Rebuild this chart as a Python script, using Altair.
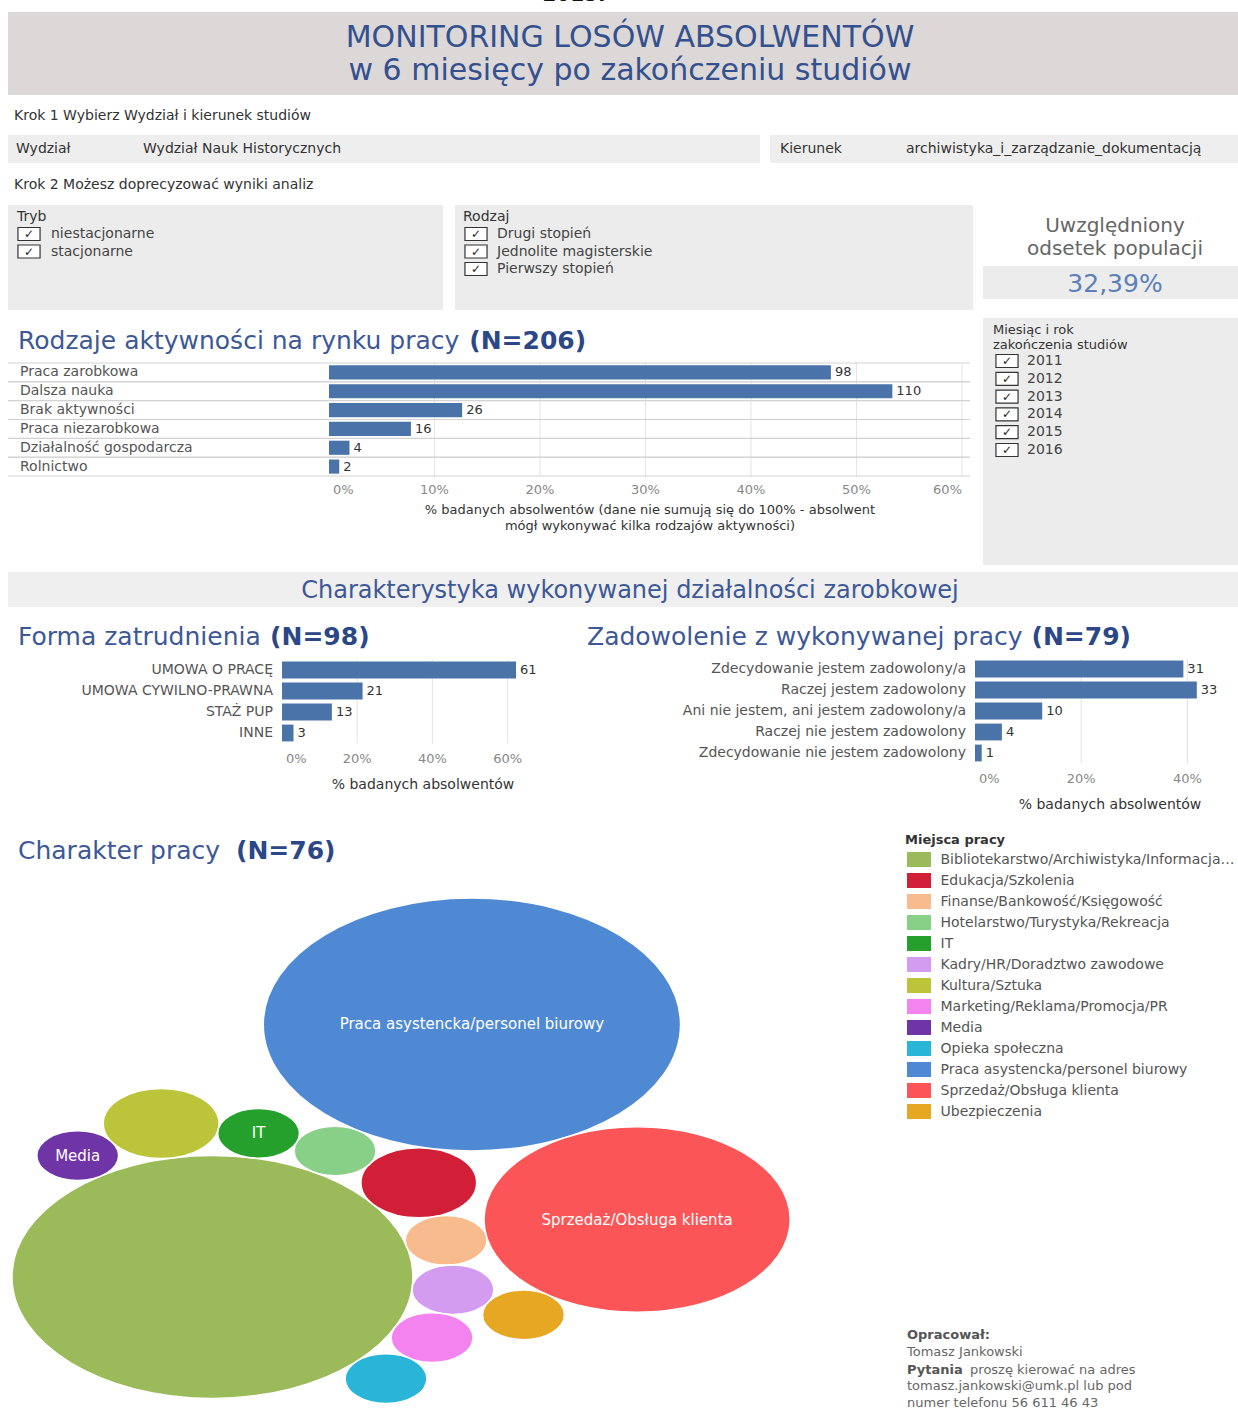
import math
import unicodedata
import altair as alt
import pandas as pd

# ------------------------------------------------------------------ data
report_year = "2015."
title_line1 = "MONITORING LOSÓW ABSOLWENTÓW"
title_line2 = "w 6 miesięcy po zakończeniu studiów"

faculty = "Wydział Nauk Historycznych"
major = "archiwistyka_i_zarządzanie_dokumentacją"
tryb_items = ["niestacjonarne", "stacjonarne"]
rodzaj_items = ["Drugi stopień", "Jednolite magisterskie", "Pierwszy stopień"]
year_items = ["2011", "2012", "2013", "2014", "2015", "2016"]
population_share = "32,39%"

activity_labels = ["Praca zarobkowa", "Dalsza nauka", "Brak aktywności",
                   "Praca niezarobkowa", "Działalność gospodarcza", "Rolnictwo"]
activity_counts = [98, 110, 26, 16, 4, 2]
activity_n = 206
activity_ticks = [0, 0.1, 0.2, 0.3, 0.4, 0.5, 0.6]

form_labels = ["UMOWA O PRACĘ", "UMOWA CYWILNO-PRAWNA", "STAŻ PUP", "INNE"]
form_counts = [61, 21, 13, 3]
form_n = 98
form_ticks = [0, 0.2, 0.4, 0.6]

sat_labels = ["Zdecydowanie jestem zadowolony/a", "Raczej jestem zadowolony",
              "Ani nie jestem, ani jestem zadowolony/a", "Raczej nie jestem zadowolony",
              "Zdecydowanie nie jestem zadowolony"]
sat_counts = [31, 33, 10, 4, 1]
sat_n = 79
sat_ticks = [0, 0.2, 0.4]

job_places = ["Bibliotekarstwo/Archiwistyka/Informacja naukowa", "Edukacja/Szkolenia",
              "Finanse/Bankowość/Księgowość", "Hotelarstwo/Turystyka/Rekreacja", "IT",
              "Kadry/HR/Doradztwo zawodowe", "Kultura/Sztuka", "Marketing/Reklama/Promocja/PR",
              "Media", "Opieka społeczna", "Praca asystencka/personel biurowy",
              "Sprzedaż/Obsługa klienta", "Ubezpieczenia"]
job_counts = [24, 2, 1, 1, 1, 1, 2, 1, 1, 1, 26, 14, 1]
job_colors = ["#9bba59", "#d11f37", "#f7bb8d", "#88cf88", "#26a02d", "#d39cf0", "#bcc43a",
              "#f283ef", "#6f35a6", "#29b5d8", "#5089d3", "#fb5557", "#e6a823"]
job_bubble_text = ["", "", "", "", "IT", "", "", "", "Media", "",
                   "Praca asystencka/personel biurowy", "Sprzedaż/Obsługa klienta", ""]

author_lines = ["Tomasz Jankowski", "tomasz.jankowski@umk.pl lub pod", "numer telefonu 56 611 46 43"]

# ------------------------------------------------------------------ style
FONT = "DejaVu Sans"
BAR = "#4a74a9"
BLUE_T = "#3d5897"
BLUE_B = "#2c4788"
ONE = [{"k": 0}]

CW = {" ": .318, "(": .39, ")": .39, "=": .838, ":": .337, ".": .318, ",": .318, "%": .95,
      "/": .337, "-": .361, "a": .613, "b": .635, "c": .55, "d": .635, "e": .615, "f": .352,
      "g": .635, "h": .634, "i": .278, "j": .278, "k": .579, "l": .278, "m": .974, "n": .634,
      "o": .612, "p": .635, "q": .635, "r": .411, "s": .521, "t": .392, "u": .634, "v": .592,
      "w": .818, "x": .592, "y": .592, "z": .525, "ł": .284, "A": .684, "C": .698, "F": .575,
      "N": .748, "P": .603, "R": .695, "Z": .685}


def tw(s, size, bold=False):
    w = 0.0
    for ch in s:
        base = unicodedata.normalize("NFD", ch)[0]
        w += CW.get(ch, CW.get(base, 0.636 if ch.isdigit() else 0.62))
    return w * size * (1.2 if bold else 1.0)


def box(x, y, x2, y2, fill):
    return alt.Chart(alt.Data(values=ONE)).mark_rect(fill=fill).encode(
        x=alt.value(x), x2=alt.value(x2), y=alt.value(y), y2=alt.value(y2))


def txt(s, x, y, size=14, color="#444", align="left", bold=False, baseline="middle", limit=None):
    kw = dict(text=s, align=align, baseline=baseline, fontSize=size, color=color, font=FONT,
              fontWeight="bold" if bold else "normal")
    if limit:
        kw["limit"] = limit
    return alt.Chart(alt.Data(values=ONE)).mark_text(**kw).encode(x=alt.value(x), y=alt.value(y))


def rich_title(normal, bold, x, y, size):
    return [txt(normal, x, y, size=size, color=BLUE_T),
            txt(bold, x + tw(normal, size), y, size=size, color=BLUE_B, bold=True)]


BOX_PATH = "M-1.7,-1H1.7V1H-1.7Z"


def checklist(items, x_box, x_text, y0, pitch, size=14):
    df = pd.DataFrame({"item": items})
    n = len(items)
    ys = alt.Scale(domain=items, range=[y0 - pitch / 2, y0 + (n - 0.5) * pitch],
                   paddingInner=0, paddingOuter=0)
    Y = alt.Y("item:N", scale=ys, axis=None)
    base = alt.Chart(df)
    boxes = base.mark_point(shape=BOX_PATH, size=169, filled=True, color="white",
                            stroke="#333", strokeWidth=1.2, opacity=1).encode(x=alt.value(x_box), y=Y)
    checks = base.mark_text(text="✓", fontSize=12, fontWeight="bold", color="#222", font=FONT,
                            align="center", baseline="middle").encode(x=alt.value(x_box), y=Y)
    labels = base.mark_text(align="left", baseline="middle", fontSize=size, color="#444",
                            font=FONT).encode(x=alt.value(x_text), y=Y, text="item:N")
    return alt.layer(boxes, checks, labels)


def hbar(labels, counts, n, ticks, x_range, y_range, label_x, label_align, tick_y,
         last_align="center", row_lines=None, band=0.75, label_limit=None):
    df = pd.DataFrame({"cat": labels, "count": counts})
    df["share"] = df["count"] / n
    xs = alt.Scale(domain=[ticks[0], ticks[-1]], range=x_range, nice=False, zero=True)
    ys = alt.Scale(domain=labels, range=y_range, paddingInner=0, paddingOuter=0)
    X = alt.X("share:Q", scale=xs, axis=None)
    Y = alt.Y("cat:N", scale=ys, axis=None)
    base = alt.Chart(df)
    out = []
    tdf = pd.DataFrame({"t": ticks, "i": list(range(len(ticks)))})
    tX = alt.X("t:Q", scale=xs, axis=None)
    out.append(alt.Chart(tdf).transform_filter("datum.i > 0").mark_rule(
        color="#e4e4e4", strokeWidth=1).encode(x=tX, y=alt.value(y_range[0]), y2=alt.value(y_range[1])))
    if row_lines:
        for bp in (0, 1):
            out.append(base.mark_rule(color="#d2d2d2", strokeWidth=1).encode(
                x=alt.value(row_lines[0]), x2=alt.value(row_lines[1]),
                y=alt.Y("cat:N", scale=ys, axis=None, bandPosition=bp)))
    out.append(base.mark_bar(color=BAR, height={"band": band}).encode(x=X, y=Y))
    out.append(base.mark_text(align="left", baseline="middle", dx=4, fontSize=13, color="#333",
                              font=FONT).encode(x=X, y=Y, text="count:Q"))
    lkw = dict(align=label_align, baseline="middle", fontSize=14, color="#555", font=FONT)
    if label_limit:
        lkw["limit"] = label_limit
    out.append(base.mark_text(**lkw).encode(x=alt.value(label_x), y=Y, text="cat:N"))
    last = len(ticks) - 1
    tk = dict(baseline="middle", fontSize=13, color="#888", font=FONT)
    T = alt.Text("t:Q", format=".0%")
    out.append(alt.Chart(tdf).transform_filter("datum.i == 0").mark_text(align="left", dx=4, **tk)
               .encode(x=tX, y=alt.value(tick_y), text=T))
    out.append(alt.Chart(tdf).transform_filter(f"datum.i > 0 && datum.i < {last}")
               .mark_text(align="center", **tk).encode(x=tX, y=alt.value(tick_y), text=T))
    out.append(alt.Chart(tdf).transform_filter(f"datum.i == {last}")
               .mark_text(align=last_align, **tk).encode(x=tX, y=alt.value(tick_y), text=T))
    return alt.layer(*out)


# ------------------------------------------------------------------ circle packing (front chain)
def place(b, a, c):
    dx, dy = b["x"] - a["x"], b["y"] - a["y"]
    d2 = dx * dx + dy * dy
    if d2:
        a2 = (a["r"] + c["r"]) ** 2
        b2 = (b["r"] + c["r"]) ** 2
        if a2 > b2:
            x = (d2 + b2 - a2) / (2 * d2)
            y = math.sqrt(max(0, b2 / d2 - x * x))
            c["x"] = b["x"] - x * dx - y * dy
            c["y"] = b["y"] - x * dy + y * dx
        else:
            x = (d2 + a2 - b2) / (2 * d2)
            y = math.sqrt(max(0, a2 / d2 - x * x))
            c["x"] = a["x"] + x * dx - y * dy
            c["y"] = a["y"] + x * dy + y * dx
    else:
        c["x"] = a["x"] + c["r"]
        c["y"] = a["y"]


def intersects(a, b):
    dr = a["r"] + b["r"] - 1e-6
    dx, dy = b["x"] - a["x"], b["y"] - a["y"]
    return dr > 0 and dr * dr > dx * dx + dy * dy


class Node:
    def __init__(self, c):
        self.c = c
        self.next = None
        self.prev = None


def score(node):
    a, b = node.c, node.next.c
    ab = a["r"] + b["r"]
    dx = (a["x"] * b["r"] + b["x"] * a["r"]) / ab
    dy = (a["y"] * b["r"] + b["y"] * a["r"]) / ab
    return dx * dx + dy * dy


def pack_siblings(circles):
    n = len(circles)
    a = circles[0]
    a["x"], a["y"] = 0.0, 0.0
    if n < 2:
        return
    b = circles[1]
    a["x"] = -b["r"]
    b["x"], b["y"] = a["r"], 0.0
    if n < 3:
        return
    place(b, a, circles[2])
    a, b, c = Node(circles[0]), Node(circles[1]), Node(circles[2])
    a.next = b; c.prev = b
    b.next = c; a.prev = c
    c.next = a; b.prev = a
    i = 3
    while i < n:
        cc = circles[i]
        place(a.c, b.c, cc)
        cn = Node(cc)
        j, k, sj, sk = b.next, a.prev, b.c["r"], a.c["r"]
        restart = False
        while True:
            if sj <= sk:
                if intersects(j.c, cn.c):
                    b = j; a.next = b; b.prev = a
                    restart = True
                    break
                sj += j.c["r"]; j = j.next
            else:
                if intersects(k.c, cn.c):
                    a = k; a.next = b; b.prev = a
                    restart = True
                    break
                sk += k.c["r"]; k = k.prev
            if j is k.next:
                break
        if restart:
            continue
        cn.prev = a; cn.next = b
        a.next = cn; b.prev = cn
        b = cn
        aa = score(a)
        node = cn
        while True:
            node = node.next
            if node is b:
                break
            ca = score(node)
            if ca < aa:
                a, aa = node, ca
        b = a.next
        i += 1


circles = [{"r": math.sqrt(v)} for v in job_counts]
pack_siblings(circles)
ROT = math.radians(-37)  # orientation of the packed layout
for c in circles:
    x, y = c["x"], c["y"]
    c["x"] = x * math.cos(ROT) - y * math.sin(ROT)
    c["y"] = x * math.sin(ROT) + y * math.cos(ROT)
x_lo = min(c["x"] - c["r"] for c in circles)
x_hi = max(c["x"] + c["r"] for c in circles)
y_lo = min(c["y"] - c["r"] for c in circles)
y_hi = max(c["y"] + c["r"] for c in circles)
PX = 24.8       # px per unit of radius (vertical)
STRETCH = 1.65  # horizontal stretch of the dashboard picture
bx_scale = alt.Scale(domain=[x_lo, x_hi], range=[12, 12 + (x_hi - x_lo) * PX * STRETCH], zero=False, nice=False)
by_scale = alt.Scale(domain=[y_lo, y_hi], range=[898, 898 + (y_hi - y_lo) * PX], zero=False, nice=False)
ELLIPSE = f"M{-STRETCH},0A{STRETCH},1,0,1,0,{STRETCH},0A{STRETCH},1,0,1,0,{-STRETCH},0Z"
LEG_PATH = "M-1.6,-1H1.6V1H-1.6Z"

bdf = pd.DataFrame({"place": job_places, "count": job_counts,
                    "bx": [c["x"] for c in circles], "by": [c["y"] for c in circles],
                    "label": job_bubble_text})
maxc = max(job_counts)
BX = alt.X("bx:Q", scale=bx_scale, axis=None)
BY = alt.Y("by:Q", scale=by_scale, axis=None)
bubbles = alt.Chart(bdf).mark_point(shape=ELLIPSE, filled=True, opacity=1, stroke="white",
                                    strokeWidth=1.5).encode(
    x=BX, y=BY,
    size=alt.Size("count:Q", scale=alt.Scale(type="linear", domain=[0, maxc],
                                             range=[0, 4 * PX * PX * maxc]), legend=None),
    color=alt.Color("place:N", scale=alt.Scale(domain=job_places, range=job_colors),
                    legend=alt.Legend(title="Miejsca pracy", orient="none", legendX=905, legendY=834,
                                      symbolType=LEG_PATH, symbolSize=225, symbolOffset=6.5,
                                      symbolStrokeWidth=0, symbolOpacity=1,
                                      labelFont=FONT, labelFontSize=14, labelColor="#555",
                                      labelOffset=14, labelLimit=296,
                                      titleFont=FONT, titleFontSize=13, titleColor="#333",
                                      titleFontWeight="bold", titlePadding=5, rowPadding=6,
                                      padding=0)),
)
bubble_labels = alt.Chart(bdf).transform_filter("datum.label != ''").mark_text(
    color="white", fontSize=15, font=FONT, baseline="middle").encode(x=BX, y=BY, text="label:N")
bubble_chart = alt.layer(bubbles, bubble_labels)

# ------------------------------------------------------------------ dashboard
L = []
L.append(txt(report_year, 574, 5, size=20, bold=True, color="#111", align="center", baseline="bottom"))
L.append(box(8, 12, 1238, 95, "#dcd8d8"))
L.append(txt(title_line1, 630, 38, size=30, color="#34508e", align="center"))
L.append(txt(title_line2, 630, 71, size=30, color="#34508e", align="center"))

L.append(txt("Krok 1 Wybierz Wydział i kierunek studiów", 14, 116, color="#333"))
L.append(box(8, 135, 760, 163, "#eeeeee"))
L.append(txt("Wydział", 16, 149, color="#333"))
L.append(txt(faculty, 143, 149, color="#333"))
L.append(box(770, 135, 1238, 163, "#eeeeee"))
L.append(txt("Kierunek", 780, 149, color="#333"))
L.append(txt(major, 906, 149, color="#333", limit=330))
L.append(txt("Krok 2 Możesz doprecyzować wyniki analiz", 14, 185, color="#333"))

L.append(box(8, 205, 443, 310, "#ececec"))
L.append(txt("Tryb", 17, 217, color="#333"))
L.append(checklist(tryb_items, 29, 51, 234, 17.5))
L.append(box(455, 205, 973, 310, "#ececec"))
L.append(txt("Rodzaj", 463, 217, color="#333"))
L.append(checklist(rodzaj_items, 476, 497, 234, 17.5))

L.append(txt("Uwzględniony", 1115, 226, size=20, color="#666", align="center"))
L.append(txt("odsetek populacji", 1115, 249, size=20, color="#666", align="center"))
L.append(box(983, 266, 1238, 299, "#ececec"))
L.append(txt(population_share, 1115, 284, size=25, color="#5b80b8", align="center"))

L.append(box(983, 318, 1238, 565, "#ececec"))
L.append(txt("Miesiąc i rok", 993, 330, size=13, color="#333"))
L.append(txt("zakończenia studiów", 993, 345, size=13, color="#333"))
L.append(checklist(year_items, 1007, 1027, 361, 17.8))

L += rich_title("Rodzaje aktywności na rynku pracy ", "(N=206)", 18, 341, 25)
L.append(hbar(activity_labels, activity_counts, activity_n, activity_ticks, [329, 962], [363, 476],
              20, "left", 490, last_align="right", row_lines=(8, 970), band=0.75))
L.append(txt("% badanych absolwentów (dane nie sumują się do 100% - absolwent", 650, 510, size=13,
             color="#333", align="center"))
L.append(txt("mógł wykonywać kilka rodzajów aktywności)", 650, 526, size=13, color="#333", align="center"))

L.append(box(8, 572, 1238, 607, "#efefef"))
L.append(txt("Charakterystyka wykonywanej działalności zarobkowej", 630, 591, size=24,
             color=BLUE_T, align="center"))

L += rich_title("Forma zatrudnienia ", "(N=98)", 18, 637, 25)
L.append(hbar(form_labels, form_counts, form_n, form_ticks, [282, 507.6], [659.5, 743.5],
              273, "right", 759, band=0.8, label_limit=255))
L.append(txt("% badanych absolwentów", 423, 785, size=14, color="#333", align="center"))

L += rich_title("Zadowolenie z wykonywanej pracy ", "(N=79)", 587, 637, 25)
L.append(hbar(sat_labels, sat_counts, sat_n, sat_ticks, [975, 1187.4], [658.5, 763.5],
              966, "right", 779, band=0.8))
L.append(txt("% badanych absolwentów", 1110, 805, size=14, color="#333", align="center"))

L += rich_title("Charakter pracy  ", "(N=76)", 18, 851, 25)
L.append(bubble_chart)

L.append(txt("Opracował:", 907, 1335, size=13, color="#555", bold=True))
L.append(txt(author_lines[0], 907, 1352, size=13, color="#666"))
L.append(txt("Pytania", 907, 1370, size=13, color="#555", bold=True))
L.append(txt("proszę kierować na adres", 907 + tw("Pytania ", 13, True), 1370, size=13, color="#666"))
L.append(txt(author_lines[1], 907, 1386, size=13, color="#666"))
L.append(txt(author_lines[2], 907, 1403, size=13, color="#666"))

chart = alt.layer(*L).resolve_scale(
    x="independent", y="independent", color="independent", size="independent"
).properties(
    width=1238, height=1410, padding=0,
    autosize=alt.AutoSizeParams(type="none"), background="white"
).configure_view(stroke=None)

chart.save("out.html", embed_options={"renderer": "svg", "actions": False})
